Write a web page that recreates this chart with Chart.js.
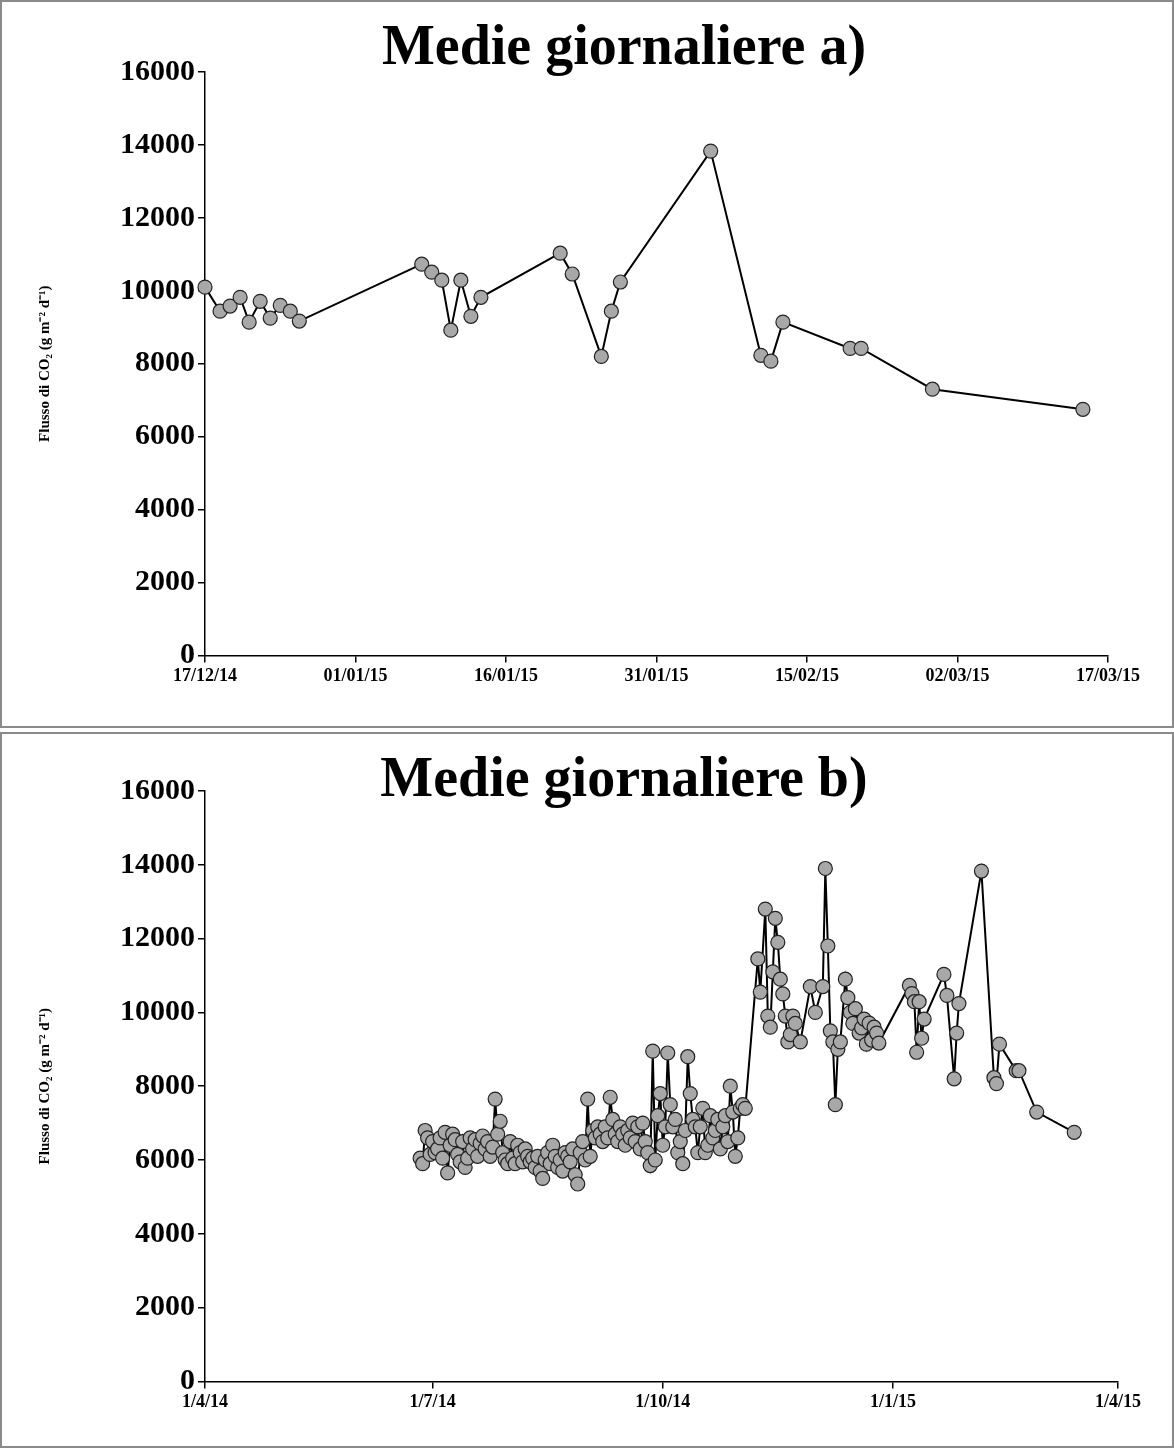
<!DOCTYPE html>
<html>
<head>
<meta charset="utf-8">
<script src="https://cdn.jsdelivr.net/npm/chart.js@4.4.1/dist/chart.umd.min.js"></script>
<style>
  body { margin: 0; background: #fff; width: 1174px; }
  .box { position: relative; border: 2px solid #8a8a8a; box-sizing: border-box; width: 1174px; }
  #boxA { height: 728px; }
  #boxB { height: 716px; margin-top: 4px; }
  canvas { display: block; }
</style>
</head>
<body>
<div class="box" id="boxA"><canvas id="chartA"></canvas></div>
<div class="box" id="boxB"><canvas id="chartB"></canvas></div>
<script>
// Panel a: days since 17/12/14
const daysA = [0, 1.5, 2.5, 3.5, 4.4, 5.5, 6.5, 7.5, 8.5, 9.4, 21.6, 22.6, 23.6, 24.5, 25.5, 26.5, 27.5,
  35.4, 36.6, 39.5, 40.5, 41.4, 50.4, 55.4, 56.4, 57.6, 64.3, 65.4, 72.5, 87.5];
const valsA = [10100, 9440, 9580, 9820, 9140, 9710, 9250, 9600, 9440, 9170, 10730, 10510, 10290, 8920, 10290, 9300, 9820,
  11030, 10460, 8200, 9440, 10240, 13830, 8230, 8070, 9140, 8420, 8420, 7300, 6750];
const ticksA = ['17/12/14', '01/01/15', '16/01/15', '31/01/15', '15/02/15', '02/03/15', '17/03/15'];

// Panel b: days since 1/4/14 (before 17/12/14; the rest is panel a shifted by 260 days)
const earlyDays = [];
const earlyVals = [6050, 5900, 6800, 6600, 6150, 6500, 6200, 6300, 6600, 6050, 6750, 5650, 6400, 6700, 6550, 6150,
  5950, 6500, 5800, 6050, 6600, 6300, 6550, 6100, 6450, 6650, 6300, 6500, 6100, 6350, 7650, 6700, 7050, 6200,
  6000, 5900, 6500, 6050, 5900, 6400, 6200, 5950, 6300, 6100, 5950, 6050, 5800, 6100, 5700, 5500, 6000, 6200,
  5900, 6400, 6100, 5800, 6000, 5700, 6200, 6100, 5950, 6300, 5600, 5350, 6200, 6500, 6000, 7650, 6100, 6800,
  6600, 6900, 6700, 6500, 6900, 6600, 7700, 7100, 6700, 6500, 6900, 6700, 6400, 6800, 6600, 7000, 6500, 6900,
  6300, 7000, 6500, 6200, 5850, 8950, 6000, 7200, 7800, 6400, 6900, 8900, 7500, 6900, 7100, 6200, 6500, 5900,
  6800, 8800, 7800, 7100, 6900, 6200, 6900, 7400, 6200, 6400, 7200, 6600, 6800, 7100, 6300, 6900, 7200, 6500,
  8000, 7300, 6100, 6600, 7400, 7500, 7400];
for (let i = 0; i < earlyVals.length; i++) earlyDays.push(86 + i);
const lateDays = [221, 222, 224, 225, 226, 227, 228, 229, 230, 231, 232, 233, 234, 235, 236, 238, 242, 244,
  247, 248, 249, 250, 251, 252, 253, 254, 256, 257, 258, 259];
const lateVals = [11450, 10550, 12800, 9900, 9600, 11100, 12550, 11900, 10900, 10500, 9900, 9200, 9400, 9900,
  9700, 9200, 10700, 10000, 10700, 13900, 11800, 9500, 9200, 7500, 9000, 9200, 10900, 10400, 10000, 9700];
const daysB = earlyDays.concat(lateDays, daysA.map((d) => d + 260));
const valsB = earlyVals.concat(lateVals, valsA);
const tickDaysB = [0, 91, 183, 275, 365];
const ticksB = ['1/4/14', '1/7/14', '1/10/14', '1/1/15', '1/4/15'];

const serif = '"Liberation Serif", "Times New Roman", serif';
const yTitle = 'Flusso di CO\u2082 (g m\u207B\u00B2 d\u207B\u00B9)';

const titlePlugin = {
  id: 'panelTitle',
  afterDraw(chart, args, opts) {
    const { ctx } = chart;
    ctx.save();
    ctx.font = 'bold 56px ' + serif;
    ctx.fillStyle = '#000';
    ctx.textAlign = 'center';
    ctx.textBaseline = 'alphabetic';
    ctx.fillText(opts.text, opts.x, opts.y);
    ctx.restore();
  },
};

function makeChart(id, w, h, days, vals, xmax, tickDays, tickLabels, title, pad) {
  const cv = document.getElementById(id);
  cv.width = w;
  cv.height = h;
  return new Chart(cv, {
    type: 'line',
    data: {
      datasets: [{
        data: days.map((d, i) => ({ x: d, y: vals[i] })),
        borderColor: '#000',
        borderWidth: 2,
        pointRadius: 7,
        pointBackgroundColor: '#a8a8a8',
        pointBorderColor: '#222',
        pointBorderWidth: 1.2,
        tension: 0,
        clip: false,
      }],
    },
    options: {
      responsive: false,
      animation: false,
      layout: { padding: pad },
      plugins: {
        legend: { display: false },
        tooltip: { enabled: false },
        panelTitle: { text: title, x: 622, y: 62 },
      },
      scales: {
        x: {
          type: 'linear',
          min: 0,
          max: xmax,
          afterBuildTicks: (axis) => { axis.ticks = tickDays.map((v) => ({ value: v })); },
          ticks: {
            autoSkip: false,
            maxRotation: 0,
            color: '#000',
            font: { family: serif, size: 18, weight: 'bold' },
            callback: (v) => tickLabels[tickDays.indexOf(v)],
          },
          grid: { drawOnChartArea: false, color: '#000', tickLength: 7, lineWidth: 1.5 },
          border: { color: '#000', width: 1.5 },
        },
        y: {
          min: 0,
          max: 16000,
          afterFit: (axis) => { axis.width = 203 - pad.left; },
          ticks: {
            stepSize: 2000,
            color: '#000',
            font: { family: serif, size: 30, weight: 'bold' },
            callback: (v) => String(v),
          },
          title: {
            display: true,
            text: yTitle,
            color: '#000',
            font: { family: serif, size: 15, weight: 'bold' },
            padding: { top: 0, bottom: 4 },
          },
          grid: { drawOnChartArea: false, color: '#000', tickLength: 7, lineWidth: 1.5 },
          border: { color: '#000', width: 1.5 },
        },
      },
    },
    plugins: [titlePlugin],
  });
}

makeChart('chartA', 1170, 724, daysA, valsA, 90, [0, 15, 30, 45, 60, 75, 90], ticksA,
  'Medie giornaliere a)', { top: 70, right: 64, bottom: 36, left: 34 });
makeChart('chartB', 1170, 712, daysB, valsB, 365, tickDaysB, ticksB,
  'Medie giornaliere b)', { top: 57, right: 54, bottom: 30, left: 34 });
</script>
</body>
</html>
